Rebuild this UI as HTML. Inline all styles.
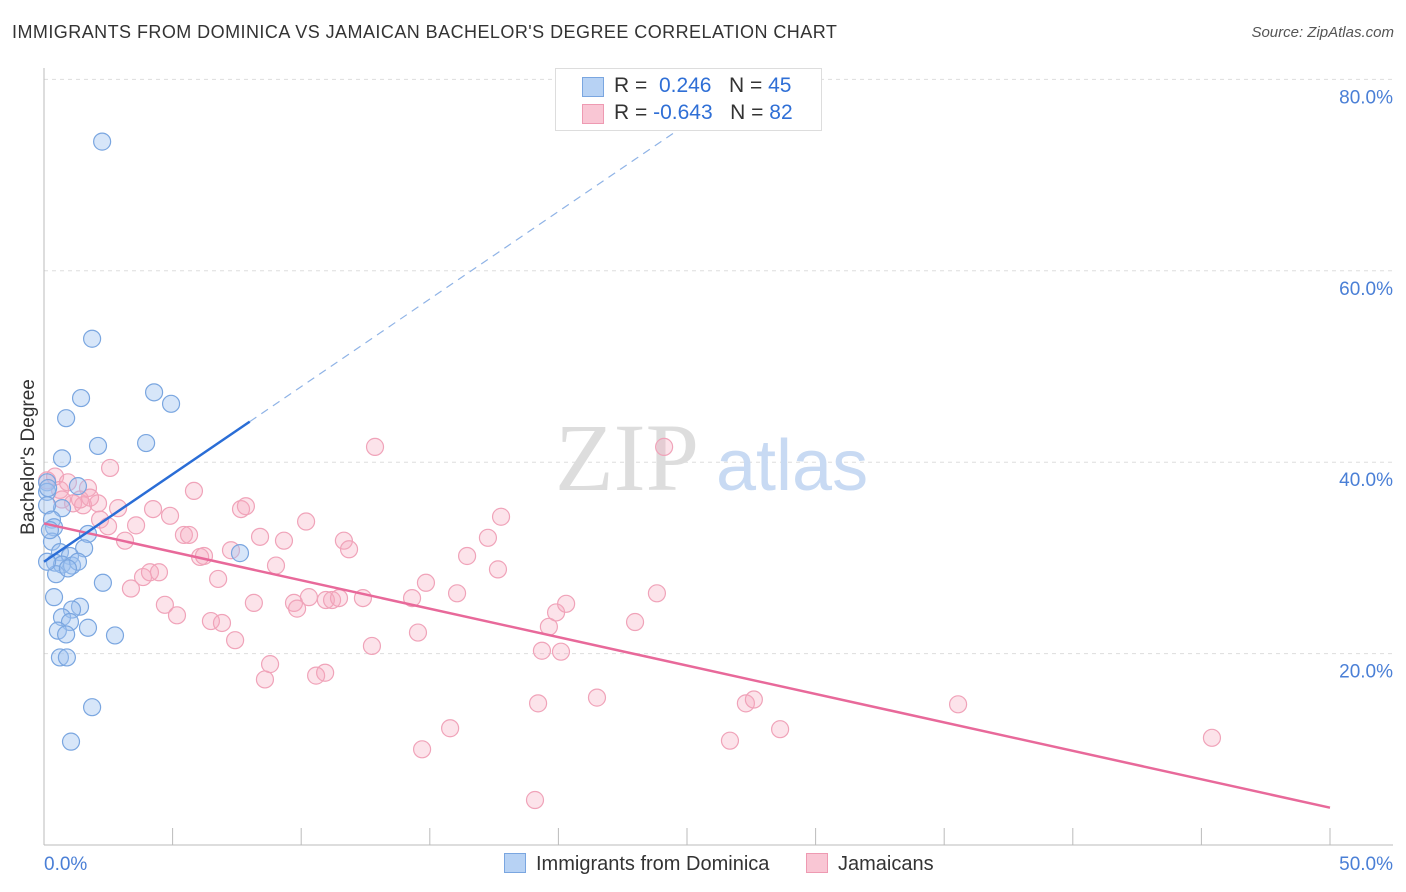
<!DOCTYPE html>
<html><head><meta charset="utf-8"><style>
body{margin:0;background:#fff;font-family:"Liberation Sans",sans-serif}
#c{position:relative;width:1406px;height:892px;overflow:hidden}
.t{position:absolute;white-space:nowrap}
</style></head><body>
<div id="c">
<div class="t" style="left:12px;top:22px;font-size:18px;color:#333;letter-spacing:0.45px">IMMIGRANTS FROM DOMINICA VS JAMAICAN BACHELOR'S DEGREE CORRELATION CHART</div>
<div class="t" style="right:12px;top:24px;font-size:15px;color:#555;font-style:italic">Source: ZipAtlas.com</div>
<svg id="s" width="1406" height="892" style="position:absolute;left:0;top:0"></svg>
</div>
<script>
const yTicks=[20,40,60,80];
const yTickLabels=["20.0%","40.0%","60.0%","80.0%"];
const xTickLabels=["0.0%","50.0%"];
const blueX=[2.26,1.87,4.28,1.44,4.94,0.86,2.10,3.97,0.70,1.32,0.12,0.12,0.70,0.12,0.31,0.39,1.71,1.56,0.31,0.62,1.01,7.62,0.43,0.70,1.09,1.32,0.47,0.93,2.29,0.39,1.40,1.09,0.70,1.01,0.54,0.86,1.71,2.76,0.62,0.89,1.87,1.05,0.16,0.23,0.12];
const blueY=[73.5,52.9,47.3,46.7,46.1,44.6,41.7,42.0,40.4,37.5,37.9,36.9,35.2,35.5,34.0,33.2,32.5,31.0,31.7,30.6,30.2,30.5,29.5,29.3,29.2,29.6,28.3,28.9,27.4,25.9,24.9,24.6,23.8,23.3,22.4,22.0,22.7,21.9,19.6,19.6,14.4,10.8,37.3,32.9,29.6];
const pinkX=[0.12,0.43,0.62,0.93,1.71,1.13,1.52,2.10,2.57,1.40,2.18,2.49,2.88,3.15,3.58,3.38,4.24,3.85,4.12,4.47,4.70,4.90,5.17,5.44,5.64,5.83,6.07,6.22,6.77,6.49,6.92,7.43,7.27,7.66,7.85,8.16,8.40,9.02,8.59,8.79,9.33,9.72,9.84,10.19,10.58,10.93,10.30,10.96,11.20,11.47,11.66,11.86,12.40,12.75,12.87,14.31,14.85,14.54,14.70,15.79,16.06,16.45,17.26,17.65,17.77,19.21,19.36,19.63,19.91,20.10,20.30,19.09,21.50,22.98,23.83,24.11,26.67,27.29,27.60,28.62,35.54,45.41,0.70,1.79];
const pinkY=[38.1,38.5,37.1,37.9,37.3,35.7,35.5,35.7,39.4,36.1,34.0,33.3,35.2,31.8,33.4,26.8,35.1,28.0,28.5,28.5,25.1,34.4,24.0,32.4,32.4,37.0,30.1,30.2,27.8,23.4,23.2,21.4,30.8,35.1,35.4,25.3,32.2,29.2,17.3,18.9,31.8,25.3,24.7,33.8,17.7,18.0,25.9,25.6,25.6,25.8,31.8,30.9,25.8,20.8,41.6,25.8,27.4,22.2,10.0,12.2,26.3,30.2,32.1,28.8,34.3,14.8,20.3,22.8,24.3,20.2,25.2,4.7,15.4,23.3,26.3,41.6,10.9,14.8,15.2,12.1,14.7,11.2,36.1,36.3];
const blueTrend=[29.6,1.83]; // intercept, slope
const pinkTrend=[33.6,-0.594];
const X=v=>44+v*25.72, Y=v=>845-v*9.57;
const s=document.getElementById('s');const NS='http://www.w3.org/2000/svg';
function el(t,a){const e=document.createElementNS(NS,t);for(const k in a)e.setAttribute(k,a[k]);s.appendChild(e);return e;}
yTicks.forEach((v,i)=>{
 const g=el('line',{x1:44,x2:1393,y1:Y(v),y2:Y(v),stroke:'#ddd','stroke-dasharray':'4,4'});
 
 
 const t=el('text',{x:1393,y:Y(v)+24,'text-anchor':'end','font-size':19,fill:'#4a7fd6'});
 t.textContent=yTickLabels[i];
 
 
});
let a=el('line',{x1:44,x2:44,y1:68,y2:845,stroke:'#bbb'});


a=el('line',{x1:44,x2:1393,y1:845,y2:845,stroke:'#bbb'});


for(let i=1;i<=10;i++){const tk=el('line',{x1:X(i*5),x2:X(i*5),y1:828,y2:845,stroke:'#bbb'});
 
 }
let t=el('text',{x:44,y:870,'font-size':19,fill:'#4a7fd6'});t.textContent=xTickLabels[0];


t=el('text',{x:1393,y:870,'font-size':19,fill:'#4a7fd6','text-anchor':'end'});t.textContent=xTickLabels[1];


t=el('text',{x:0,y:0,'font-size':19,fill:'#333','text-anchor':'middle',transform:'translate(34,457) rotate(-90)'});t.textContent="Bachelor's Degree";


t=el('text',{x:555,y:490,'font-size':96,fill:'#ddd','font-family':'Liberation Serif'});t.textContent='ZIP';


t=el('text',{x:716,y:490,'font-size':72,fill:'#c8daf3'});t.textContent='atlas';


pinkX.forEach((v,i)=>{const c=el('circle',{cx:X(v),cy:Y(pinkY[i]),r:8.5,fill:'rgba(245,168,190,0.32)',stroke:'#f0a3b9','stroke-width':1.2});
 
 });
blueX.forEach((v,i)=>{const c=el('circle',{cx:X(v),cy:Y(blueY[i]),r:8.5,fill:'rgba(160,196,240,0.42)',stroke:'#7aa6e0','stroke-width':1.2});
 
 });
let l=el('line',{x1:X(0),y1:Y(pinkTrend[0]),x2:X(50),y2:Y(pinkTrend[0]+pinkTrend[1]*50),stroke:'#e8699a','stroke-width':2.5});


l=el('line',{x1:X(0),y1:Y(blueTrend[0]),x2:X(8),y2:Y(blueTrend[0]+blueTrend[1]*8),stroke:'#2a6dd6','stroke-width':2.5});


l=el('line',{x1:X(8),y1:Y(blueTrend[0]+blueTrend[1]*8),x2:X(26),y2:Y(blueTrend[0]+blueTrend[1]*26),stroke:'#8fb3e6','stroke-width':1.2,'stroke-dasharray':'8,6'});


</script>
<div class="t" style="left:555px;top:68px;width:265px;height:61px;border:1px solid #ddd;background:#fff;font-size:21px;color:#333">
 <div style="position:absolute;left:26px;top:8px;width:20px;height:18px;background:#b7d2f4;border:1px solid #7aa6e0"></div>
 <div style="position:absolute;left:58px;top:5px">R = &nbsp;<span style="color:#2f6fd6">0.246</span>&nbsp;&nbsp; N = <span style="color:#2f6fd6">45</span></div>
 <div style="position:absolute;left:26px;top:35px;width:20px;height:18px;background:#f9c6d4;border:1px solid #ee9ab2"></div>
 <div style="position:absolute;left:58px;top:32px">R = <span style="color:#2f6fd6">-0.643</span>&nbsp;&nbsp; N = <span style="color:#2f6fd6">82</span></div>
</div>
<div class="t" style="left:504px;top:853px;font-size:20px;color:#333"><span style="display:inline-block;width:20px;height:18px;background:#b7d2f4;border:1px solid #7aa6e0;vertical-align:-3px;margin-right:10px"></span>Immigrants from Dominica</div>
<div class="t" style="left:806px;top:853px;font-size:20px;color:#333"><span style="display:inline-block;width:20px;height:18px;background:#f9c6d4;border:1px solid #ee9ab2;vertical-align:-3px;margin-right:10px"></span>Jamaicans</div>
</body></html>
